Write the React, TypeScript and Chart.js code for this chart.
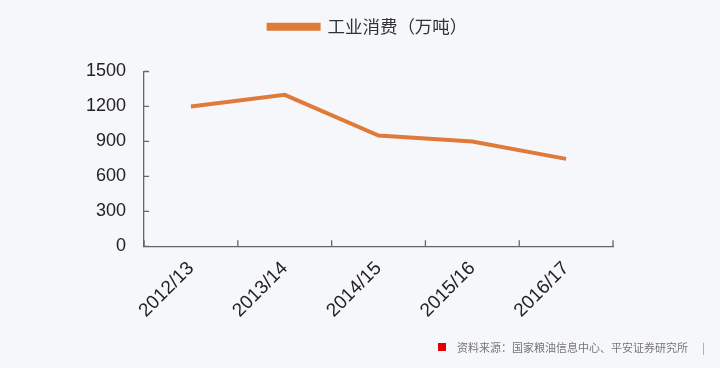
import React, { useEffect, useRef } from "react";
import { Chart, registerables } from "chart.js";

Chart.register(...registerables);

const categories = ["2012/13", "2013/14", "2014/15", "2015/16", "2016/17"];
const industrialUse = [1200, 1300, 950, 900, 750];
const seriesLabel = "工业消费（万吨）";
const sourceText = "资料来源：国家粮油信息中心、平安证券研究所";
const yTicks = [0, 300, 600, 900, 1200, 1500];

const BG = "#f6f7fb";
const ORANGE = "#e07a3b";
const AXIS = "#666666";

const innerTicks = {
  id: "innerTicks",
  beforeInit(chart: any) {
    const legend = chart.legend;
    if (legend) {
      const origFit = legend.fit.bind(legend);
      legend.fit = function () {
        origFit();
        this.height += 26;
      };
    }
  },
  beforeDraw(chart: any) {
    if (chart.legend) {
      chart.legend.left = 8;
      chart.legend.right = chart.width + 8;
    }
  },
  afterDraw(chart: any) {
    const ctx = chart.ctx;
    const x = chart.scales.x;
    const y = chart.scales.y;
    ctx.save();
    ctx.strokeStyle = AXIS;
    ctx.lineWidth = 1.3;
    ctx.beginPath();
    for (let i = 0; i <= categories.length; i++) {
      const px = x.getPixelForValue(i - 0.5);
      ctx.moveTo(px, y.bottom);
      ctx.lineTo(px, y.bottom - 6);
    }
    for (const t of y.ticks) {
      const py = y.getPixelForValue(t.value);
      ctx.moveTo(x.left, py);
      ctx.lineTo(x.left + 5, py);
    }
    ctx.stroke();
    ctx.restore();
  },
};

export default function App() {
  const ref = useRef<HTMLCanvasElement>(null);
  useEffect(() => {
    document.body.style.margin = "0";
    document.body.style.background = BG;
    const chart = new Chart(ref.current!, {
      type: "line",
      data: {
        labels: categories,
        datasets: [
          {
            label: seriesLabel,
            data: industrialUse,
            borderColor: ORANGE,
            backgroundColor: ORANGE,
            borderWidth: 4,
            pointRadius: 0,
            tension: 0,
          },
        ],
      },
      options: {
        animation: false,
        responsive: false,
        layout: { padding: { left: 68, right: 107, top: 4, bottom: 35 } },
        plugins: {
          legend: {
            position: "top",
            labels: {
              boxWidth: 50,
              boxHeight: 4,
              color: "#333333",
              font: { family: "'Noto Sans CJK SC', sans-serif", size: 17.5 },
              padding: 14,
            },
          },
          tooltip: { enabled: false },
        },
        scales: {
          x: {
            offset: true,
            grid: { display: false, offset: true, drawTicks: false },
            border: { display: true, color: AXIS, width: 1.3 },
            ticks: {
              color: "#222222",
              font: { family: "'Liberation Sans', Arial, sans-serif", size: 19 },
              minRotation: 45,
              maxRotation: 45,
              padding: 11,
            },
          },
          y: {
            min: 0,
            max: 1500,
            afterBuildTicks: (s: any) => {
              s.ticks = yTicks.map((v) => ({ value: v }));
            },
            grid: { display: false, drawTicks: false },
            border: { display: true, color: AXIS, width: 1.3 },
            ticks: {
              color: "#222222",
              font: { family: "'Liberation Sans', Arial, sans-serif", size: 18 },
              padding: 18,
              callback: (v: any) => String(v),
            },
          },
        },
      },
      plugins: [innerTicks],
    });
    return () => chart.destroy();
  }, []);

  return (
    <div style={{ position: "relative", width: 720, height: 368, background: BG }}>
      <canvas ref={ref} width={720} height={368} style={{ display: "block" }} />
      <div
        style={{
          position: "absolute",
          left: 438,
          top: 339,
          display: "flex",
          alignItems: "center",
          fontFamily: "'Noto Sans CJK SC', sans-serif",
          fontSize: 11,
          color: "#777777",
          whiteSpace: "nowrap",
        }}
      >
        <span style={{ display: "inline-block", width: 8, height: 8, background: "#e00000", marginRight: 11 }} />
        <span>{sourceText}</span>
        <span style={{ marginLeft: 14, color: "#999" }}>|</span>
      </div>
    </div>
  );
}
